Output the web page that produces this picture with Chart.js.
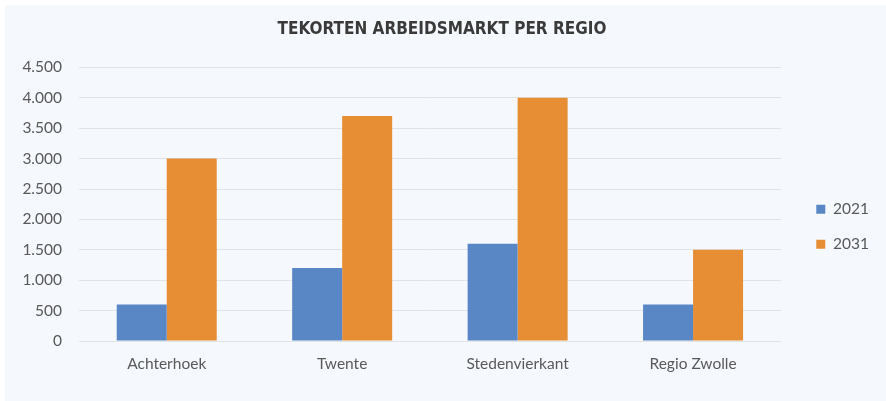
<!DOCTYPE html>
<html>
<head>
<meta charset="utf-8">
<script src="https://cdn.jsdelivr.net/npm/chart.js@4"></script>
<style>
  html, body { margin: 0; padding: 0; background: #ffffff; }
  #wrap { position: absolute; left: 5px; top: 5px; width: 881px; height: 396px; background: #f5f8fd; }
  canvas { display: block; }
</style>
</head>
<body>
<div id="wrap"><canvas id="c" width="881" height="396"></canvas></div>
<script>
const categories = ['Achterhoek', 'Twente', 'Stedenvierkant', 'Regio Zwolle'];
const series2021 = [600, 1200, 1600, 600];
const series2031 = [3000, 3700, 4000, 1500];
const seriesNames = ['2021', '2031'];
const chartTitle = 'TEKORTEN ARBEIDSMARKT PER REGIO';

function fmt(v) {
  return String(v).replace(/\B(?=(\d{3})+(?!\d))/g, '.');
}

const tickFont = { family: 'Lato', size: 15.5 };

new Chart(document.getElementById('c'), {
  type: 'bar',
  data: {
    labels: categories,
    datasets: [
      { label: seriesNames[0], data: series2021, backgroundColor: '#5986c5', borderWidth: 0 },
      { label: seriesNames[1], data: series2031, backgroundColor: '#e78e35', borderWidth: 0 }
    ]
  },
  options: {
    responsive: false,
    animation: false,
    devicePixelRatio: 1,
    layout: { padding: { left: 0, right: 7, top: 0, bottom: 13.4 } },
    datasets: { bar: { categoryPercentage: 0.57, barPercentage: 1.0 } },
    plugins: {
      title: {
        display: true,
        text: chartTitle,
        color: '#3a3a3a',
        font: { family: 'DejaVu Sans Condensed', weight: 'bold', size: 17 },
        padding: { top: 14, bottom: 28 }
      },
      legend: {
        position: 'right',
        title: { display: true, text: ' ', font: { size: 10 }, padding: { top: 49, bottom: 0 } },
        labels: {
          boxWidth: 9, boxHeight: 9, padding: 19.5,
          color: '#595959',
          font: tickFont
        }
      },
      tooltip: { enabled: false }
    },
    scales: {
      x: {
        grid: { display: false, drawTicks: false },
        border: { display: false },
        ticks: { color: '#595959', font: tickFont, padding: 14 }
      },
      y: {
        min: 0, max: 4500,
        afterFit: (s) => { s.width = 74; },
        grid: { color: '#e0e3e9', lineWidth: 1, drawTicks: false },
        border: { display: false },
        ticks: { stepSize: 500, color: '#595959', font: tickFont, padding: 17, callback: (v) => fmt(v) }
      },
      yGap: {
        position: 'right',
        grid: { display: false, drawTicks: false },
        border: { display: false },
        ticks: { display: false },
        afterFit: (s) => { s.width = 16; }
      }
    }
  }
});
</script>
</body>
</html>
